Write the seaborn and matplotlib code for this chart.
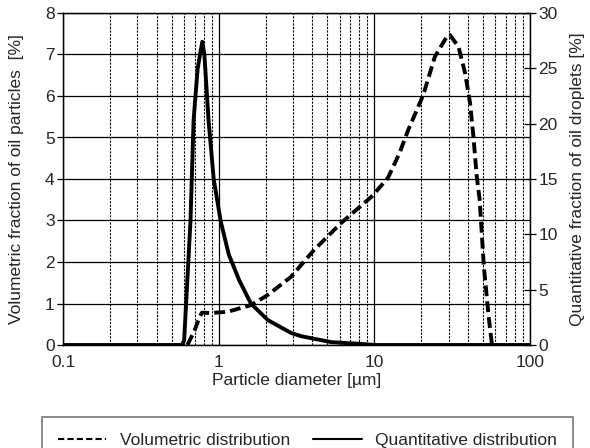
import matplotlib
matplotlib.use("Agg")
import matplotlib.pyplot as plt
from matplotlib.lines import Line2D
from matplotlib.ticker import FixedLocator, FixedFormatter, NullFormatter
import seaborn as sns
import pandas as pd

# Volumetric distribution (left axis, %)
vol_d = [0.63, 0.70, 0.75, 0.78, 0.88, 1.14, 1.61, 2.06, 2.91, 4.1, 6.12, 9.57,
         12.2, 14.5, 16.5, 20.6, 24.5, 29.2, 30.6, 34.7, 38.3, 41.2, 43.3, 45.5,
         47.5, 50.5, 54.3, 57.0]
vol_v = [0.0, 0.35, 0.65, 0.78, 0.77, 0.80, 0.96, 1.2, 1.64, 2.29, 2.94, 3.57,
         4.02, 4.62, 5.18, 6.02, 6.95, 7.43, 7.47, 7.19, 6.55, 5.83, 5.02, 4.06,
         3.5, 1.9, 0.67, 0.0]

# Quantitative distribution (right axis, %)
qnt_d = [0.1, 0.58, 0.60, 0.659, 0.69, 0.733, 0.785, 0.81, 0.861, 0.929, 1.03,
         1.16, 1.35, 1.61, 2.07, 2.91, 3.38, 5.28, 8.6, 10.0, 100.0]
qnt_v = [0.0, 0.0, 0.4, 11.2, 20.3, 25.0, 27.4, 26.2, 20.3, 15.0, 11.2,
         8.2, 5.9, 3.75, 2.25, 1.1, 0.8, 0.26, 0.08, 0.0, 0.0]

x_ticks = [0.1, 1, 10, 100]
x_tick_labels = ["0.1", "1", "10", "100"]
left_ticks = [0, 1, 2, 3, 4, 5, 6, 7, 8]
right_ticks = [0, 5, 10, 15, 20, 25, 30]

sns.set_style("white")
plt.rcParams['font.family'] = ['Liberation Sans', 'DejaVu Sans']
plt.rcParams['font.size'] = 12.5

fig = plt.figure(figsize=(5.9, 4.48), dpi=100)
ax = fig.add_axes([63/590, 1-345/448, (530-63)/590, (345-13)/448])

vol_df = pd.DataFrame({"d": vol_d, "v": vol_v})
qnt_df = pd.DataFrame({"d": qnt_d, "v": qnt_v})

ax.set_xscale("log")

sns.lineplot(data=vol_df, x="d", y="v", ax=ax, color="black", lw=2.8,
             linestyle=(0, (2.8, 1.3)), estimator=None, sort=False)

ax2 = ax.twinx()
sns.lineplot(data=qnt_df, x="d", y="v", ax=ax2, color="black", lw=2.8,
             estimator=None, sort=False)

ax.set_xlim(0.1, 100)
ax.set_ylim(0, 8)
ax2.set_ylim(0, 30)
ax2.set_yticks(right_ticks)
ax.set_yticks(left_ticks)

# x ticks and grid
ax.xaxis.set_major_locator(FixedLocator(x_ticks))
ax.xaxis.set_major_formatter(FixedFormatter(x_tick_labels))
minor = [m * 10.0**e for e in (-1, 0, 1) for m in range(2, 10)]
ax.xaxis.set_minor_locator(FixedLocator(minor))
ax.xaxis.set_minor_formatter(NullFormatter())
ax.grid(True, which="major", axis="both", color="black", lw=0.9, ls="-")
ax.grid(True, which="minor", axis="x", color="black", lw=0.8, ls=(0, (2, 1.2)))
ax.set_axisbelow(True)

for a in (ax, ax2):
    for s in a.spines.values():
        s.set_color("black")
        s.set_linewidth(0.9)
ax.tick_params(axis="y", which="major", direction="out", length=4, width=0.9,
               color="black", left=True, pad=2, labelsize=12.5)
ax.tick_params(axis="x", which="both", length=0, pad=7, labelsize=12.5)
ax2.tick_params(axis="y", direction="inout", length=8, width=0.9, color="black",
                right=True, pad=2, labelsize=12.5)

ax.set_xlabel("Particle diameter [µm]", fontsize=12.5, labelpad=2)
ax.set_ylabel("Volumetric fraction of oil particles  [%]", fontsize=12.5, labelpad=15)
ax2.set_ylabel("Quantitative fraction of oil droplets [%]", fontsize=12.5, labelpad=9)

handles = [Line2D([], [], color="black", lw=1.5, ls=(0, (3, 1.5))),
           Line2D([], [], color="black", lw=1.5, ls="-")]
labels = ["Volumetric distribution", "Quantitative distribution"]
leg = fig.legend(handles, labels, loc="upper left", bbox_to_anchor=(42/590, 31/448),
                 ncol=2, frameon=True, fancybox=False, edgecolor="#555555",
                 borderaxespad=0, handlelength=2.8, handletextpad=0.8,
                 columnspacing=1.3, borderpad=0.9, fontsize=12.5)
leg.get_frame().set_linewidth(1.2)

fig.savefig("out.png", dpi=100)
